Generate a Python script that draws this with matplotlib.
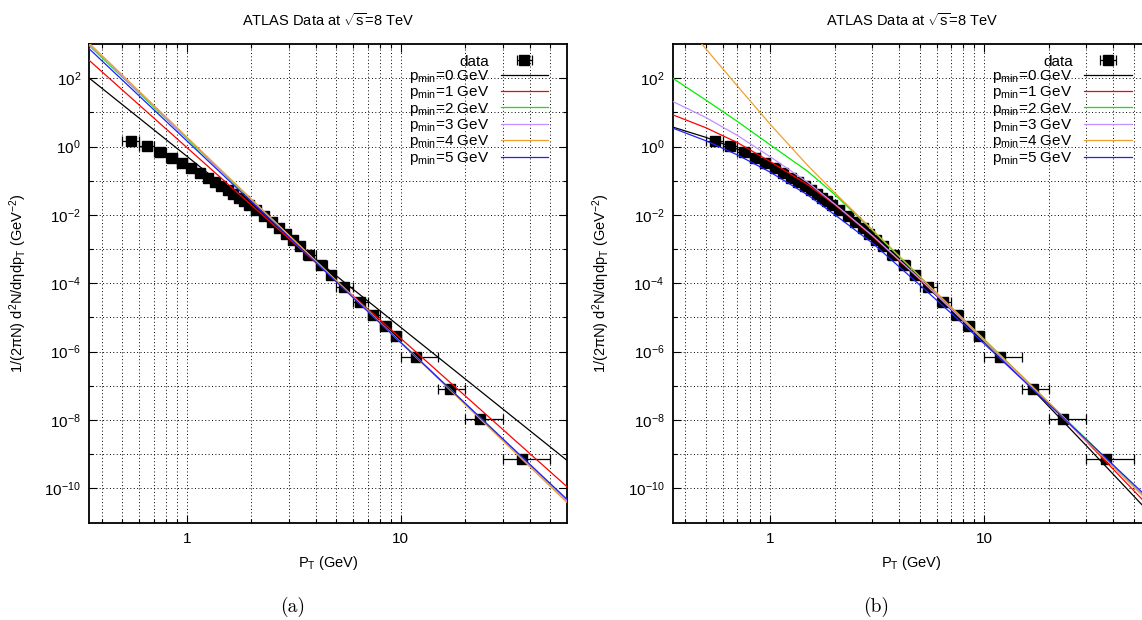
import numpy as np
import matplotlib
matplotlib.use('Agg')
import matplotlib.pyplot as plt
from matplotlib.ticker import FixedLocator, FixedFormatter, NullFormatter

plt.rcParams['font.family'] = ['Liberation Sans', 'DejaVu Sans']
plt.rcParams['mathtext.fontset'] = 'custom'
plt.rcParams['mathtext.rm'] = 'Liberation Sans'
plt.rcParams['mathtext.it'] = 'Liberation Sans'
plt.rcParams['mathtext.bf'] = 'Liberation Sans:bold'

# ATLAS charged particle spectrum, sqrt(s) = 8 TeV
pt = [0.55, 0.65, 0.75, 0.85, 0.95, 1.05, 1.15, 1.25, 1.35, 1.45, 1.55, 1.65,
      1.75, 1.85, 1.95, 2.1, 2.3, 2.5, 2.7, 2.9, 3.12, 3.37, 3.73, 4.23, 4.73,
      5.45, 6.45, 7.45, 8.47, 9.47, 11.8, 16.9, 23.4, 37]
pt_lo = [0.5, 0.6, 0.7, 0.8, 0.9, 1.0, 1.1, 1.2, 1.3, 1.4, 1.5, 1.6, 1.7, 1.8,
         1.9, 2.0, 2.2, 2.4, 2.6, 2.8, 3.0, 3.25, 3.5, 4.0, 4.5, 5, 6, 7, 8, 9,
         10, 15, 20, 30]
pt_hi = [0.6, 0.7, 0.8, 0.9, 1.0, 1.1, 1.2, 1.3, 1.4, 1.5, 1.6, 1.7, 1.8, 1.9,
         2.0, 2.2, 2.4, 2.6, 2.8, 3.0, 3.25, 3.5, 4.0, 4.5, 5.0, 6, 7, 8, 9, 10,
         15, 20, 30, 50]
yield_ = [1.49, 1.01, 0.679, 0.467, 0.327, 0.232, 0.168, 0.124, 0.0918, 0.0693,
          0.053, 0.0408, 0.0318, 0.0249, 0.0197, 0.0142, 0.0093, 0.0061, 0.0041,
          0.0028, 0.00188, 0.00123, 6.9e-4, 3.4e-4, 1.78e-4, 7.8e-5, 2.85e-5,
          1.2e-5, 5.6e-6, 2.8e-6, 7.0e-7, 8.0e-8, 1.07e-8, 7.2e-10]

labels = ['p$_{min}$=0 GeV', 'p$_{min}$=1 GeV', 'p$_{min}$=2 GeV',
          'p$_{min}$=3 GeV', 'p$_{min}$=4 GeV', 'p$_{min}$=5 GeV']
colors = ['black', 'red', '#00ee00', '#c090ff', '#f0a030', '#2020ff']

# panel (a): fits are straight lines on log-log, read at both ends
fit_a_pt = [0.35, 60]
fit_a = [
    [100, 6.5e-10],
    [330, 1.1e-10],
    [890, 4.4e-11],
    [950, 4.2e-11],
    [1050, 3.8e-11],
    [720, 4.7e-11],
]

# panel (b): curved fits, read at these pT values
fit_b_pt = [0.35, 0.5, 0.7, 1, 1.5, 2, 3, 5, 8, 15, 30, 60]
fit_b = [
    [3.72, 1.86, 0.851, 0.269, 0.0603, 0.0178, 2.29e-3, 1.26e-4, 7.59e-6, 1.66e-7, 1.78e-9, 1.78e-11],
    [8.51, 3.55, 1.32, 0.363, 0.0759, 0.0200, 2.40e-3, 1.32e-4, 8.32e-6, 1.91e-7, 2.40e-9, 2.63e-11],
    [100, 22.9, 5.50, 1.12, 0.186, 0.0398, 3.55e-3, 1.58e-4, 8.91e-6, 1.91e-7, 2.75e-9, 3.80e-11],
    [20.9, 7.08, 2.14, 0.501, 0.0891, 0.0209, 2.51e-3, 1.35e-4, 7.94e-6, 1.74e-7, 2.51e-9, 3.80e-11],
    [1.05e4, 724, 60.3, 4.47, 0.275, 0.0447, 3.72e-3, 1.58e-4, 8.91e-6, 1.91e-7, 2.63e-9, 3.55e-11],
    [3.47, 1.48, 0.575, 0.178, 0.0380, 0.0102, 1.51e-3, 8.91e-5, 6.31e-6, 1.58e-7, 2.69e-9, 4.47e-11],
]

xmajor = [1, 10]
xminor = [0.4, 0.5, 0.6, 0.7, 0.8, 0.9, 2, 3, 4, 5, 6, 7, 8, 9, 20, 30, 40, 50]
ymajor = [1e-10, 1e-8, 1e-6, 1e-4, 1e-2, 1e0, 1e2]
ymajor_lbl = ['$10^{-10}$', '$10^{-8}$', '$10^{-6}$', '$10^{-4}$', '$10^{-2}$',
              '$10^{0}$', '$10^{2}$']
yminor = [1e-9, 1e-7, 1e-5, 1e-3, 1e-1, 1e1]

W, H = 1142, 620
fig = plt.figure(figsize=(W / 100, H / 100), dpi=100)

pt_a = np.array(pt)
xerr = [pt_a - np.array(pt_lo), np.array(pt_hi) - pt_a]


def panel(left_px, fits_x, fits, tag):
    ax = fig.add_axes([left_px / W, (H - 522.6) / H, 478 / W, 478.6 / H])
    ax.set_xscale('log')
    ax.set_yscale('log')
    ax.set_xlim(0.35, 60)
    ax.set_ylim(1e-11, 1e3)
    ax.set_axisbelow(True)

    ax.xaxis.set_major_locator(FixedLocator(xmajor))
    ax.xaxis.set_major_formatter(FixedFormatter(['1', '10']))
    ax.xaxis.set_minor_locator(FixedLocator(xminor))
    ax.xaxis.set_minor_formatter(NullFormatter())
    ax.yaxis.set_major_locator(FixedLocator(ymajor))
    ax.yaxis.set_major_formatter(FixedFormatter(ymajor_lbl))
    ax.yaxis.set_minor_locator(FixedLocator(yminor))
    ax.yaxis.set_minor_formatter(NullFormatter())
    ax.tick_params(which='both', direction='in', top=True, right=True,
                   width=0.8, labelsize=11)
    ax.tick_params(which='major', length=5.8)
    ax.tick_params(which='minor', length=3.2)
    ax.tick_params(axis='x', which='major', pad=7)
    ax.tick_params(axis='y', which='major', pad=6)
    for s in ax.spines.values():
        s.set_linewidth(1.3)
    ax.grid(True, which='both', color='black', linestyle=(0, (1, 2.5)), lw=0.7)

    h = ax.errorbar(pt, yield_, xerr=xerr, fmt='s', color='black', ms=6.5,
                    elinewidth=0.9, capsize=3.5, capthick=0.9, zorder=3,
                    label='data')
    lines = [h]
    for f, c, lab in zip(fits, colors, labels):
        ln, = ax.plot(fits_x, f, color=c, lw=0.9, zorder=4, label=lab)
        lines.append(ln)
    ax.legend(lines, ['data'] + labels, loc='upper right',
              bbox_to_anchor=(0.96, 0.978), frameon=False, markerfirst=False,
              fontsize=11, handlelength=3.1, handletextpad=0.75,
              labelspacing=-0.04, borderaxespad=0, borderpad=0)

    cx = left_px + 239
    fig.text(cx / W, 1 - 20 / H, r'ATLAS Data at $\sqrt{\mathrm{s}}$=8 TeV',
             ha='center', va='center', fontsize=10.5)
    fig.text(cx / W, 1 - 563 / H, 'P$_\\mathrm{T}$ (GeV)', ha='center',
             va='center', fontsize=10.5)
    fig.text((left_px - 71) / W, 1 - 283 / H,
             '1/(2\u03c0N) d$^2$N/d\u03b7dp$_\\mathrm{T}$ (GeV$^{-2}$)',
             rotation=90, ha='center', va='center', fontsize=10.5)
    fig.text((left_px + 203) / W, 1 - 607 / H, tag, ha='center', va='center',
             fontsize=14, family='cmr10')
    return ax


panel(89.3, fit_a_pt, fit_a, '(a)')
panel(672.7, fit_b_pt, fit_b, '(b)')

fig.savefig('out.png', dpi=100)
